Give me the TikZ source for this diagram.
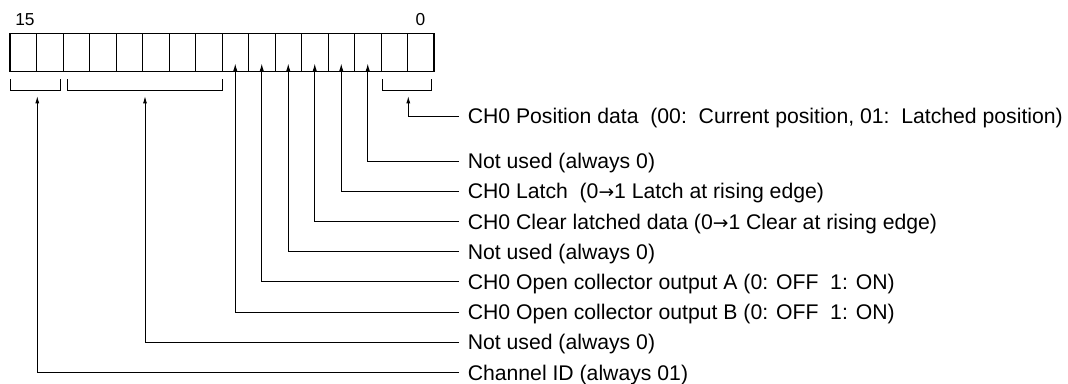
\documentclass[tikz,border=0pt]{standalone}
\usepackage{fontspec}
\setmainfont{Liberation Sans}
\newfontfamily\arrowfont{DejaVu Sans}
\newcommand{\tofield}{{\arrowfont\fontsize{14}{16}\selectfont →}}
\usetikzlibrary{arrows.meta}

\tikzset{every picture/.style={line width=0.75pt}}

\begin{document}
\begin{tikzpicture}[x=0.75pt,y=0.75pt,yscale=-1,xscale=1,
  bitcell/.style={draw,minimum width=19.875pt,minimum height=28.8pt,inner sep=0pt,outer sep=0pt},
  bitnum/.style={inner sep=0pt,font=\fontsize{13}{15}\selectfont},
  field/.style={anchor=west,inner xsep=6.2pt,inner ysep=0pt,text height=11.4pt,text depth=0pt,font=\fontsize{15.9}{18}\selectfont},
  pin/.style={-{Latex[length=5.5pt,width=3pt]}}]
\useasboundingbox (0,0) rectangle (1068,383);

% Register cells, bit 15 on the left
\foreach \b in {0,...,15}
  \node[bitcell] (b\b) at ({23.25+(15-\b)*26.5},52.5) {};
\draw[line width=1pt] (b15.north west) rectangle (b0.south east);

% Text Node
\node[bitnum] (n15) at (25,20) {15};
% Text Node
\node[bitnum] (n0) at (420.5,20) {0};

% Brackets under bit groups
\draw (10,79) -- (10,90) -- (60,90) -- (60,79);
\draw (67.7,79) -- (67.7,90) -- (222.3,90) -- (222.3,79);
\draw (382.7,79) -- (382.7,90) -- (431.7,90) -- (431.7,79);

% arrow ends
\coordinate (a15) at (37.3,96);
\coordinate (a13) at (145,96);
\coordinate (a1) at (408.3,96);
\foreach \b in {2,...,7}
  \coordinate (a\b) at ([yshift=-6.2pt]b\b.south);

% Text Node
\node[field] (f1) at (459,116) {CH0 Position data~~(00:~~Current position, 01:~~Latched position)};
% Text Node
\node[field] (f2) at (459,161) {Not used (always 0)};
% Text Node
\node[field] (f3) at (459,191.2) {CH0 Latch~~(0\tofield1 Latch at rising edge)};
% Text Node
\node[field] (f4) at (459,221.4) {CH0 Clear latched data (0\tofield1 Clear at rising edge)};
% Text Node
\node[field] (f5) at (459,251.6) {Not used (always 0)};
% Text Node
\node[field] (f6) at (459,281.8) {CH0 Open collector output A (0: OFF~~1: ON)};
% Text Node
\node[field] (f7) at (459,312) {CH0 Open collector output B (0: OFF~~1: ON)};
% Text Node
\node[field] (f13) at (459,342.2) {Not used (always 0)};
% Text Node
\node[field] (f15) at (459,372.4) {Channel ID (always 01)};

% Leader lines
\draw[pin] (f1.west) -| (a1);
\foreach \b in {2,...,7}
  \draw[pin] (f\b.west) -| (a\b);
\draw[pin] (f13.west) -| (a13);
\draw[pin] (f15.west) -| (a15);

\end{tikzpicture}
\end{document}
